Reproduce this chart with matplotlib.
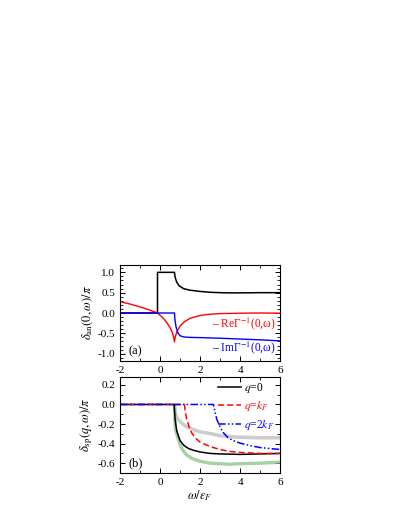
import matplotlib
matplotlib.use("Agg")
import matplotlib.pyplot as plt
from matplotlib.ticker import MultipleLocator

plt.rcParams['font.family'] = ['Liberation Serif', 'DejaVu Serif']
plt.rcParams['mathtext.fontset'] = 'stix'
plt.rcParams['font.size'] = 8
plt.rcParams['axes.unicode_minus'] = False

# ---------------- panel (a) data ----------------
w_an = [-2.0, -0.13, -0.13, 0.72, 0.75, 0.83, 0.95, 1.17, 1.5, 2.0, 2.5, 3.0, 3.5, 4.0, 5.0, 6.0]
d_an = [0.0, 0.0, 1.0, 1.0, 0.88, 0.76, 0.67, 0.60, 0.56, 0.53, 0.51, 0.50, 0.495, 0.495, 0.50, 0.50]

w_re = [-2.0, -1.5, -1.0, -0.5, -0.13, 0.1, 0.3, 0.5, 0.6, 0.68, 0.72, 0.76, 0.85, 1.0, 1.2, 1.5, 2.0, 2.5, 3.0, 4.0, 5.0, 6.0]
re_g = [0.28, 0.22, 0.15, 0.07, 0.0, -0.10, -0.21, -0.36, -0.46, -0.60, -0.71, -0.58, -0.45, -0.32, -0.22, -0.13, -0.06, -0.03, -0.015, -0.005, 0.0, -0.005]

w_im = [-2.0, 0.72, 0.74, 0.8, 0.9, 1.0, 1.2, 1.5, 2.0, 3.0, 4.0, 5.0, 6.0]
im_g = [0.0, 0.0, -0.15, -0.35, -0.50, -0.56, -0.59, -0.60, -0.605, -0.62, -0.64, -0.66, -0.685]

# ---------------- panel (b) data ----------------
w_q0 = [-2.0, 0.70, 0.72, 0.75, 0.83, 1.0, 1.2, 1.42, 1.7, 2.0, 2.5, 3.0, 4.0, 5.0, 6.0]
d_q0 = [0.0, 0.0, -0.06, -0.15, -0.27, -0.37, -0.42, -0.45, -0.47, -0.485, -0.50, -0.505, -0.51, -0.505, -0.50]

w_kf = [-2.0, 1.22, 1.25, 1.33, 1.45, 1.58, 1.75, 2.0, 2.5, 3.0, 3.5, 4.0, 5.0, 6.0]
d_kf = [0.0, 0.0, -0.06, -0.15, -0.23, -0.29, -0.34, -0.385, -0.43, -0.46, -0.48, -0.49, -0.50, -0.50]

w_2kf = [-2.0, 2.67, 2.72, 2.83, 3.0, 3.17, 3.4, 3.67, 4.0, 4.5, 5.0, 5.5, 6.0]
d_2kf = [0.0, 0.0, -0.05, -0.15, -0.23, -0.29, -0.34, -0.37, -0.395, -0.42, -0.44, -0.45, -0.46]

w_gray = [0.72, 0.75, 0.85, 1.08, 1.3, 1.58, 2.0, 2.58, 3.0, 4.0, 5.0, 6.0]
d_gray = [0.0, -0.085, -0.14, -0.19, -0.225, -0.25, -0.28, -0.30, -0.32, -0.335, -0.34, -0.34]

w_grn = [0.72, 0.75, 0.83, 0.92, 1.08, 1.3, 1.58, 2.0, 2.5, 3.0, 3.5, 4.0, 5.0, 6.0]
d_grn = [0.0, -0.22, -0.30, -0.36, -0.45, -0.51, -0.55, -0.58, -0.60, -0.605, -0.61, -0.605, -0.60, -0.59]

xticks = [-2, 0, 2, 4, 6]

fig = plt.figure(figsize=(3.99, 5.16), dpi=100)
ax1 = fig.add_axes([0.301, 0.3004, 0.401, 0.186])
ax2 = fig.add_axes([0.301, 0.0833, 0.401, 0.186])

ax1.plot(w_an, d_an, color='black', lw=1.1)
ax1.plot(w_re, re_g, color='red', lw=1.0)
ax1.plot(w_im, im_g, color='blue', lw=1.0)
ax1.set_xlim(-2, 6)
ax1.set_ylim(-1.18, 1.18)
ax1.yaxis.set_major_locator(MultipleLocator(0.5))
ax1.yaxis.set_minor_locator(MultipleLocator(0.1))
ax1.set_ylabel(r'$\delta_{\mathrm{an}}(0,\omega)/\pi$', fontsize=9, labelpad=2)
ax1.text(2.62, -0.25, '– ReΓ$^{-1}$(0,ω)', color='red', fontsize=8.3, va='center')
ax1.text(2.62, -0.85, '– ImΓ$^{-1}$(0,ω)', color='blue', fontsize=8.3, va='center')
ax1.text(-1.6, -0.94, '(a)', fontsize=9, va='center')

ax2.plot(w_gray, d_gray, color='#bdbdbd', lw=2.6, alpha=0.75, solid_capstyle='butt')
ax2.plot(w_grn, d_grn, color='#86c486', lw=2.4, alpha=0.75, solid_capstyle='butt')
ax2.plot(w_q0, d_q0, color='black', lw=1.1, label=r'$q$=0')
ax2.plot(w_kf, d_kf, color='red', lw=1.1, ls=(0, (4, 2)), label=r'$q$=$k_F$')
ax2.plot(w_2kf, d_2kf, color='blue', lw=1.1, ls=(0, (5, 1.5, 1, 1.5, 1, 1.5)), label=r'$q$=2$k_F$')
ax2.set_xlim(-2, 6)
ax2.set_ylim(-0.7, 0.28)
ax2.yaxis.set_major_locator(MultipleLocator(0.2))
ax2.yaxis.set_minor_locator(MultipleLocator(0.1))
ax2.set_ylabel(r'$\delta_{\mathrm{sp}}(q,\omega)/\pi$', fontsize=9, labelpad=2)
ax2.set_xlabel(r'$\omega/\varepsilon_F$', fontsize=9, labelpad=1)
ax2.text(-1.6, -0.6, '(b)', fontsize=9, va='center')
leg = ax2.legend(loc='upper right', frameon=False, fontsize=8.3, handlelength=2.0,
                 labelspacing=0.4, borderaxespad=0.1, handletextpad=0.3,
                 labelcolor='linecolor', bbox_to_anchor=(1.0, 1.02))

for ax in (ax1, ax2):
    ax.set_xticks(xticks)
    ax.xaxis.set_minor_locator(MultipleLocator(1))
    ax.tick_params(which='both', direction='in', top=True, right=True, labelsize=8)
    ax.tick_params(which='major', length=3.5, width=0.7)
    ax.tick_params(which='minor', length=2, width=0.6)
    for s in ax.spines.values():
        s.set_linewidth(0.8)

fig.savefig('out.png', dpi=100)
